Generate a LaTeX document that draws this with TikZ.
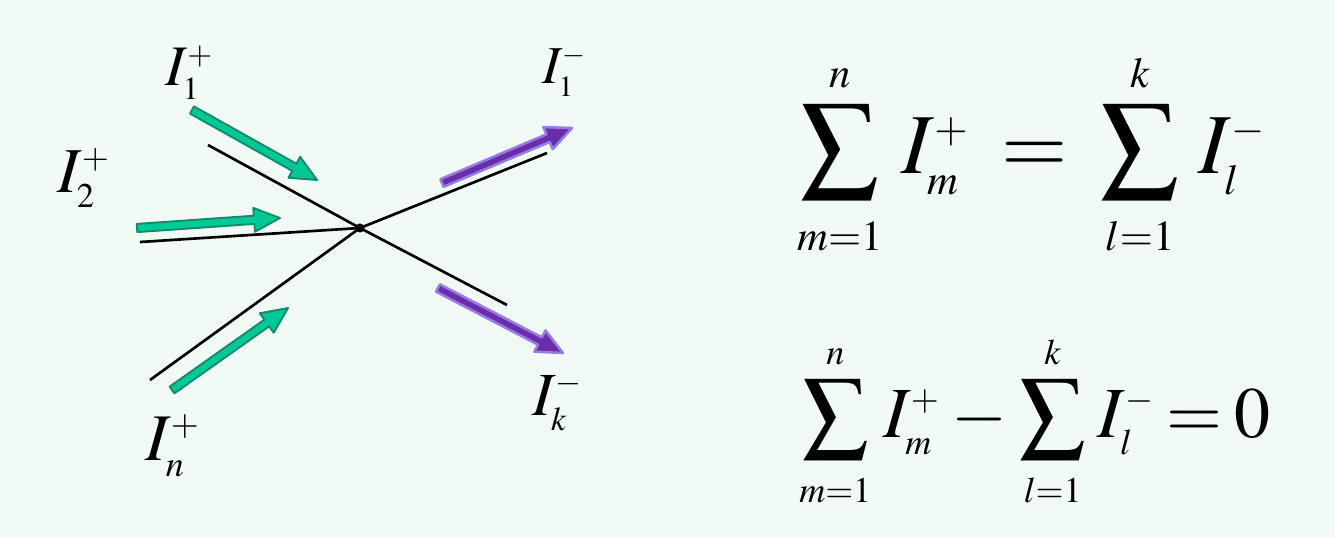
\documentclass[tikz,border=0pt]{standalone}
\usepackage{mathptmx}
\usepackage{graphicx}
\usetikzlibrary{calc}
\DeclareMathSizes{64}{64}{32}{25}
\DeclareMathSizes{54}{54}{27}{21}
\DeclareMathSizes{43}{43}{24}{18}
\DeclareMathSizes{48}{48}{26}{20}
\DeclareMathSizes{50}{50}{27}{20}
\DeclareMathSizes{40}{40}{22}{17}
\DeclareMathSizes{46}{46}{25}{19}
\definecolor{bg}{RGB}{242,250,246}
\definecolor{grfill}{RGB}{0,200,150}
\definecolor{grline}{RGB}{16,140,104}
\definecolor{pufill}{RGB}{106,46,170}
\definecolor{puline}{RGB}{150,125,230}
\newcommand{\Sm}{\mathop{\vcenter{\hbox{\scalebox{0.9}{$\displaystyle\sum$}}}}\limits}
\newcommand{\fatarrow}[5]{% start, tip, fill, draw, outline width
  \coordinate (#1-hb) at ($(#2)!19.5pt!(#1)$);
  \filldraw[fill=#3,draw=#4,line width=#5,line join=round]
    ($(#1)!3.1pt!90:(#2)$) -- ($(#1-hb)!3.1pt!90:(#2)$) -- ($(#1-hb)!9pt!90:(#2)$)
    -- (#2) -- ($(#1-hb)!9pt!-90:(#2)$) -- ($(#1-hb)!3.1pt!-90:(#2)$)
    -- ($(#1)!3.1pt!-90:(#2)$) -- cycle;}
\tikzset{
  wire/.style={line width=2pt,black},
  lbl/.style={inner sep=0pt,anchor=base west},
  eqn/.style={inner sep=0pt,anchor=base west},
}
\begin{document}
\begin{tikzpicture}[x=0.75pt,y=-0.75pt]
\fill[bg] (0,0) rectangle (1335,537);
\useasboundingbox (0,0) rectangle (1335,537);
% junction
\coordinate (c) at (360,228);
\coordinate (a1) at (208,145);
\coordinate (a2) at (140,242);
\coordinate (a3) at (150,380);
\coordinate (b1) at (547,153);
\coordinate (b2) at (507,305);
\draw[wire] (a1) -- (c) -- (b2);
\draw[wire] (a2) -- (c);
\draw[wire] (a3) -- (c);
\draw[wire] (c) -- (b1);
\fill (c) circle (3.4pt);
% arrows
\coordinate (g1s) at (192,110); \coordinate (g1t) at (317,180);
\coordinate (g2s) at (137,228); \coordinate (g2t) at (280,218);
\coordinate (g3s) at (172,390); \coordinate (g3t) at (288,308);
\coordinate (p1s) at (442,183); \coordinate (p1t) at (572,128);
\coordinate (p2s) at (438,288); \coordinate (p2t) at (563,353);
\fatarrow{g1s}{g1t}{grfill}{grline}{1.4pt}
\fatarrow{g2s}{g2t}{grfill}{grline}{1.4pt}
\fatarrow{g3s}{g3t}{grfill}{grline}{1.4pt}
\fatarrow{p1s}{p1t}{pufill}{puline}{1.9pt}
\fatarrow{p2s}{p2t}{pufill}{puline}{1.9pt}
% labels
\node[lbl] (l1) at (165,85) {\fontsize{43}{50}\selectfont $I_1^{+}$};
\node[lbl] (l2) at (57,192) {\fontsize{48}{56}\selectfont $I_2^{+}$};
\node[lbl] (l3) at (145,460) {\fontsize{50}{58}\selectfont $I_n^{+}$};
\node[lbl] (l4) at (542,83) {\fontsize{40}{48}\selectfont $I_1^{-}$};
\node[lbl] (l5) at (532,415) {\fontsize{46}{54}\selectfont $I_k^{-}$};
% equations
\node[eqn] (e1) at (797,173) {\fontsize{64}{76}\selectfont $\thickmuskip=7mu\Sm_{m=1}^{n}\, I_m^{+} = \Sm_{l=1}^{k}\, I_l^{-}$};
\node[eqn] (e2) at (799,437) {\fontsize{54}{64}\selectfont $\medmuskip=3mu\thickmuskip=3mu\Sm_{m=1}^{n}\mkern1mu I_m^{+} - \Sm_{l=1}^{k}\mkern1mu I_l^{-} = 0$};
\end{tikzpicture}
\end{document}
